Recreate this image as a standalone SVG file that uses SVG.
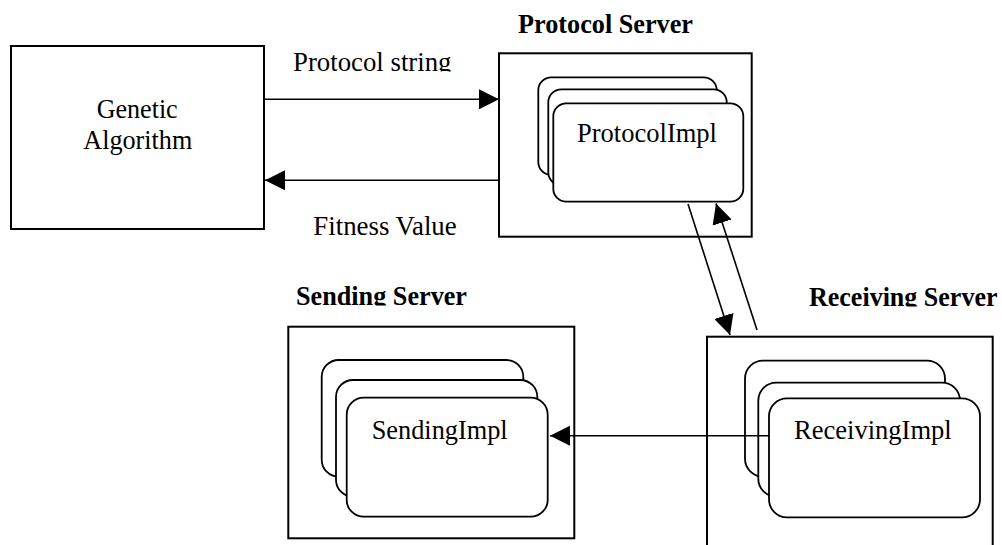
<svg xmlns="http://www.w3.org/2000/svg" width="1002" height="545" viewBox="0 0 1002 545">
  <style>
    .box { fill: #fff; stroke: #000; stroke-width: 2; }
    .impl { fill: #fff; stroke: #000; stroke-width: 1.8; }
    .conn { fill: none; stroke: #000; stroke-width: 1.6; }
    text { fill: #000; font-size: 26.5px; font-family: 'Liberation Serif', 'Times New Roman', Times, serif; }
    .title { font-weight: bold; }
  </style>
  <defs>
    <marker id="arrow" markerUnits="userSpaceOnUse" markerWidth="20" markerHeight="20" refX="20" refY="10" orient="auto">
      <path d="M0,0 L20,10 L0,20 Z" fill="#000"/>
    </marker>
    <!-- text frames that cut off the descenders -->
    <clipPath id="clipProtoString"><rect x="280" y="40" width="200" height="31.5"/></clipPath>
    <clipPath id="clipSendTitle"><rect x="280" y="270" width="220" height="35.5"/></clipPath>
    <clipPath id="clipRecvTitle"><rect x="800" y="270" width="202" height="36.5"/></clipPath>
  </defs>

  <rect width="1002" height="545" fill="#fff"/>

  <g id="genetic-algorithm">
    <rect class="box" x="11" y="46" width="253" height="183"/>
    <text x="96.7" y="118.3" textLength="81" lengthAdjust="spacingAndGlyphs">Genetic</text>
    <text x="83.3" y="149" textLength="109" lengthAdjust="spacingAndGlyphs">Algorithm</text>
  </g>

  <g id="protocol-server">
    <text class="title" x="518" y="33.3" textLength="175" lengthAdjust="spacingAndGlyphs">Protocol Server</text>
    <rect class="box" x="499" y="53.3" width="252.7" height="183.4"/>
    <rect class="impl" x="538.3" y="77.3" width="178.4" height="97.7" rx="13"/>
    <rect class="impl" x="548.3" y="89.3" width="178.4" height="96" rx="13"/>
    <rect class="impl" x="553.3" y="103.3" width="190" height="98.4" rx="13"/>
    <text x="577" y="141.7" textLength="140" lengthAdjust="spacingAndGlyphs">ProtocolImpl</text>
  </g>

  <g id="sending-server">
    <g clip-path="url(#clipSendTitle)">
      <text class="title" x="296" y="305" textLength="171" lengthAdjust="spacingAndGlyphs">Sending Server</text>
    </g>
    <rect class="box" x="288.3" y="326.7" width="286" height="211.6"/>
    <rect class="impl" x="321.7" y="360" width="201.6" height="116.7" rx="17"/>
    <rect class="impl" x="336" y="380" width="201.3" height="116.7" rx="17"/>
    <rect class="impl" x="346.7" y="397.7" width="201" height="119" rx="17"/>
    <text x="371.7" y="439" textLength="136" lengthAdjust="spacingAndGlyphs">SendingImpl</text>
  </g>

  <g id="receiving-server">
    <g clip-path="url(#clipRecvTitle)">
      <text class="title" x="809" y="306" textLength="188.5" lengthAdjust="spacingAndGlyphs">Receiving Server</text>
    </g>
    <rect class="box" x="707" y="336.7" width="285.7" height="240"/>
    <rect class="impl" x="745" y="360.7" width="200" height="116" rx="18"/>
    <rect class="impl" x="758.3" y="382.7" width="201.7" height="114" rx="18"/>
    <rect class="impl" x="769" y="398.3" width="211" height="119" rx="18"/>
    <text x="794" y="439" textLength="157.7" lengthAdjust="spacingAndGlyphs">ReceivingImpl</text>
  </g>

  <g id="connectors">
    <line class="conn" x1="264" y1="99.3" x2="499" y2="99.3" marker-end="url(#arrow)"/>
    <line class="conn" x1="499" y1="180.3" x2="265" y2="180.3" marker-end="url(#arrow)"/>
    <line class="conn" x1="688" y1="204" x2="730" y2="335" marker-end="url(#arrow)"/>
    <line class="conn" x1="757" y1="330" x2="716" y2="203.5" marker-end="url(#arrow)"/>
    <line class="conn" x1="769" y1="435.7" x2="550" y2="435.7" marker-end="url(#arrow)"/>
  </g>

  <g id="connector-labels">
    <g clip-path="url(#clipProtoString)">
      <text x="293" y="70.5" textLength="158.5" lengthAdjust="spacingAndGlyphs">Protocol string</text>
    </g>
    <text x="313.3" y="235" textLength="143.4" lengthAdjust="spacingAndGlyphs">Fitness Value</text>
  </g>
</svg>
